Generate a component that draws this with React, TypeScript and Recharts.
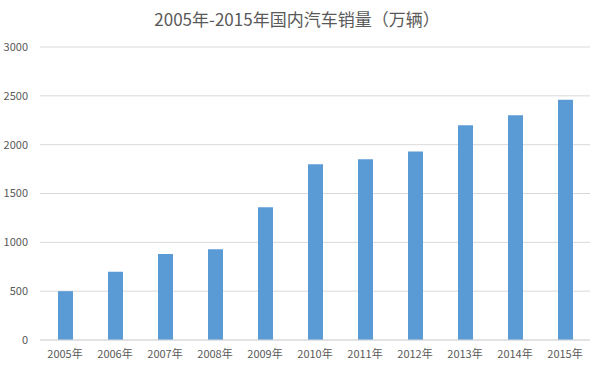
import React from 'react';
import { BarChart, Bar, XAxis, YAxis, CartesianGrid } from 'recharts';

const years = ['2005年', '2006年', '2007年', '2008年', '2009年', '2010年', '2011年', '2012年', '2013年', '2014年', '2015年'];
const sales = [500, 700, 880, 930, 1360, 1800, 1850, 1930, 2200, 2300, 2460];
const yTicks = [0, 500, 1000, 1500, 2000, 2500, 3000];

const data = years.map((year, i) => ({ year, sales: sales[i] }));

const font = '"Noto Sans CJK SC", "Noto Sans", sans-serif';

const App = () => {
  return (
    <div style={{ position: 'absolute', left: 0, top: 0, width: 600, height: 365, background: '#fff', fontFamily: font }}>
      <div
        style={{
          position: 'absolute',
          left: 0,
          top: 7,
          width: 594,
          textAlign: 'center',
          fontSize: 17,
          color: '#595959',
          lineHeight: '24px',
        }}
      >
        2005年-2015年国内汽车销量（万辆）
      </div>
      <BarChart width={600} height={365} data={data} margin={{ top: 47, right: 10, bottom: 0, left: 0 }}>
        <CartesianGrid vertical={false} stroke="#D9D9D9" />
        <XAxis
          dataKey="year"
          height={25}
          tickLine={false}
          tickMargin={4}
          axisLine={{ stroke: '#D9D9D9' }}
          tick={{ fill: '#595959', fontSize: 11, fontFamily: font }}
          interval={0}
        />
        <YAxis
          width={40}
          domain={[0, 3000]}
          ticks={yTicks}
          axisLine={false}
          tickLine={false}
          tickMargin={6}
          tick={{ fill: '#595959', fontSize: 11, fontFamily: font }}
        />
        <Bar dataKey="sales" fill="#5B9BD5" barSize={15} isAnimationActive={false} />
      </BarChart>
    </div>
  );
};

export default App;
